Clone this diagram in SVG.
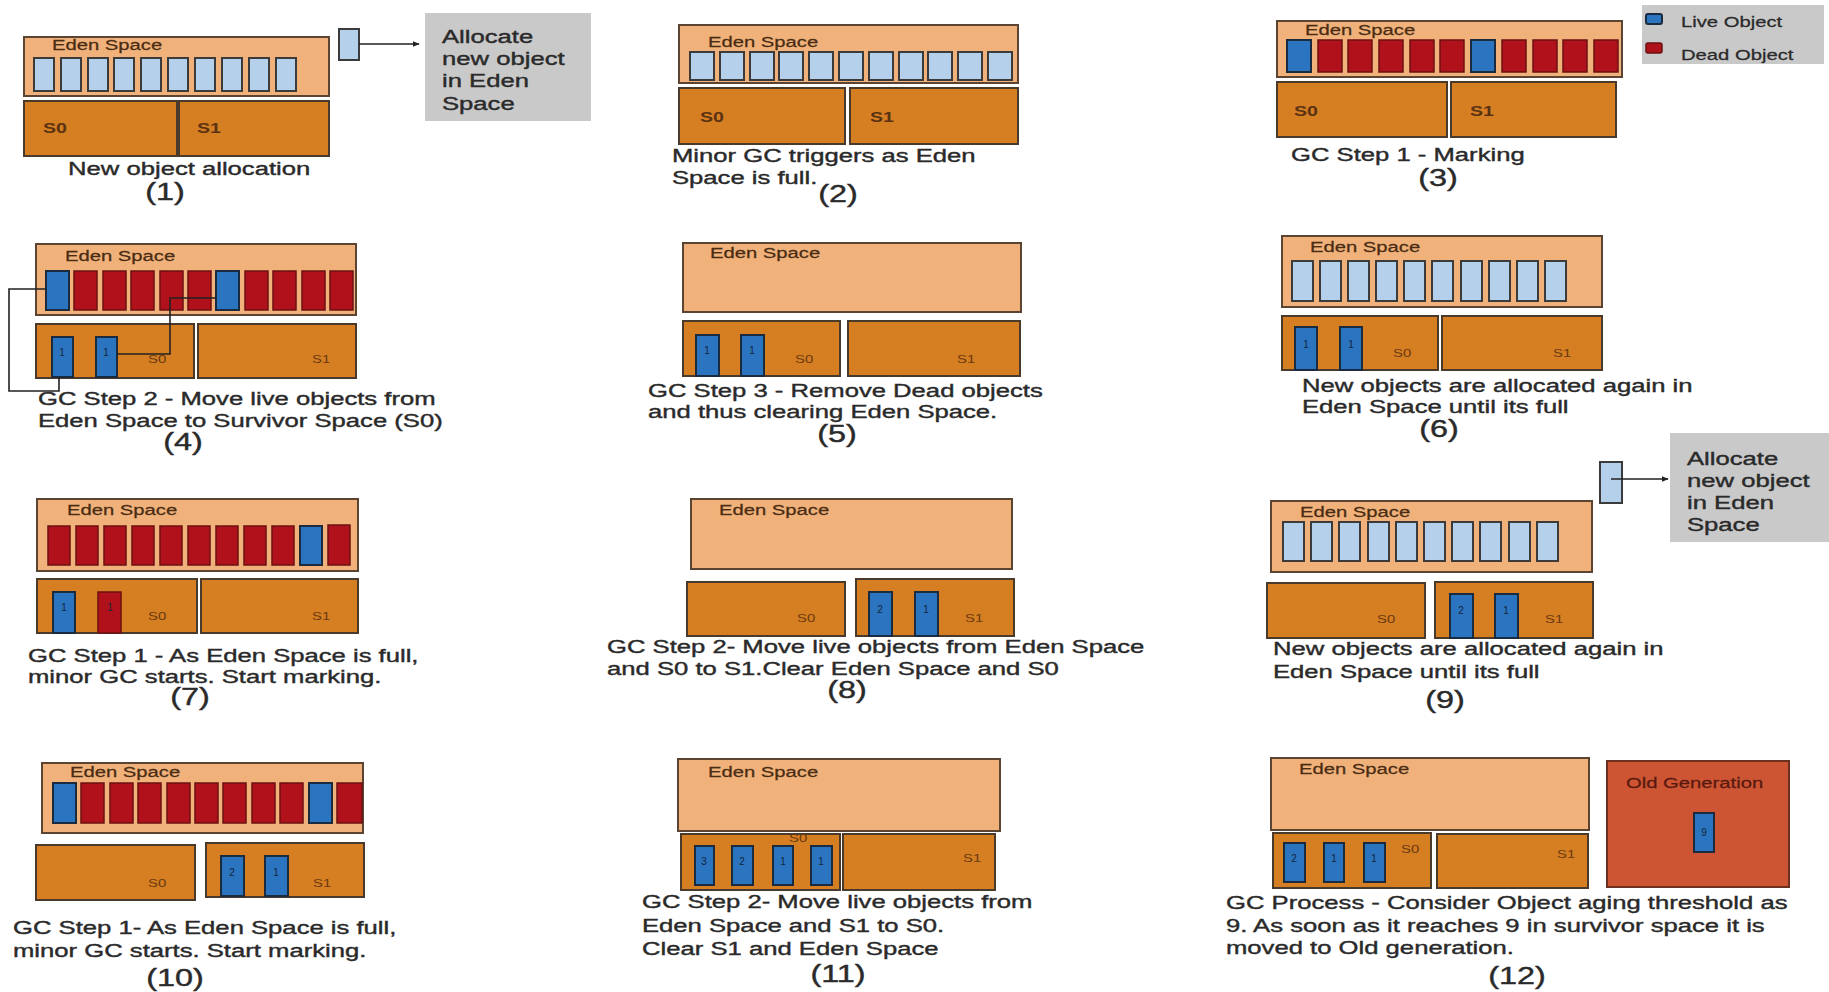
<svg xmlns="http://www.w3.org/2000/svg" width="1829" height="992" viewBox="0 0 1829 992">
<defs>
<style>
.eden{fill:#f0b27a;stroke:#5c4433;stroke-width:2}
.surv{fill:#d67e22;stroke:#4a3a2c;stroke-width:2}
.obj{fill:#b5d0ea;stroke:#3b3b3b;stroke-width:2}
.live{fill:#2b74c0;stroke:#1b2b3f;stroke-width:2}
.dead{fill:#b0111b;stroke:#6b1010;stroke-width:1.5}
.gray{fill:#c9c9c9}
.old{fill:#cd5533;stroke:#6b3020;stroke-width:2}
text{font-family:"Liberation Sans",Arial,sans-serif}
.lbl{font-size:15px;fill:#4a2c14;stroke:#4a2c14;stroke-width:0.25}
.sb{font-size:14.5px;font-weight:bold;fill:#5a3212}
.ss{font-size:11px;fill:#6a3a10}
.cap{font-size:19px;fill:#2a2a2a;stroke:#2a2a2a;stroke-width:0.4}
.num{font-size:24px;fill:#2a2a2a;stroke:#2a2a2a;stroke-width:0.4;text-anchor:middle}
.note{font-size:19px;fill:#2a2a2a;stroke:#2a2a2a;stroke-width:0.4}
.leg{font-size:15px;fill:#2a2a2a;stroke:#2a2a2a;stroke-width:0.25}
.oid{font-size:10px;fill:#14263c;text-anchor:middle}
.ogl{font-size:15px;fill:#5a1a10;stroke:#5a1a10;stroke-width:0.25}
.conn{fill:none;stroke:#222;stroke-width:1.6}
</style>
<marker id="arr" viewBox="0 0 10 10" refX="9" refY="5" markerWidth="7" markerHeight="7" orient="auto" markerUnits="userSpaceOnUse">
<path d="M0,1 L10,5 L0,9 z" fill="#222"/>
</marker>
</defs>
<rect width="1829" height="992" fill="#ffffff"/>

<g id="p1">
<rect class="eden" x="24" y="37" width="305" height="59"/>
<text class="lbl" transform="matrix(1.35 0 0 1 52 50)">Eden Space</text>
<rect class="obj" x="34" y="58" width="20" height="33"/>
<rect class="obj" x="61" y="58" width="20" height="33"/>
<rect class="obj" x="88" y="58" width="20" height="33"/>
<rect class="obj" x="114" y="58" width="20" height="33"/>
<rect class="obj" x="141" y="58" width="20" height="33"/>
<rect class="obj" x="168" y="58" width="20" height="33"/>
<rect class="obj" x="195" y="58" width="20" height="33"/>
<rect class="obj" x="222" y="58" width="20" height="33"/>
<rect class="obj" x="249" y="58" width="20" height="33"/>
<rect class="obj" x="276" y="58" width="20" height="33"/>
<rect class="surv" x="24" y="101" width="153" height="55"/>
<rect class="surv" x="179" y="101" width="150" height="55"/>
<text class="sb" transform="matrix(1.35 0 0 1 43 133)">S0</text>
<text class="sb" transform="matrix(1.35 0 0 1 197 133)">S1</text>
<rect class="obj" x="339" y="29" width="20" height="31"/>
<rect class="gray" x="425" y="13" width="166" height="108"/>
<text class="note" transform="matrix(1.35 0 0 1 442 43)">Allocate</text>
<text class="note" transform="matrix(1.35 0 0 1 442 65)">new object</text>
<text class="note" transform="matrix(1.35 0 0 1 442 87)">in Eden</text>
<text class="note" transform="matrix(1.35 0 0 1 442 110)">Space</text>
<text class="cap" transform="matrix(1.35 0 0 1 68 175)">New object allocation</text>
<text class="num" transform="matrix(1.35 0 0 1 165 200)">(1)</text>
</g>

<g id="p2">
<rect class="eden" x="679" y="25" width="339" height="58"/>
<text class="lbl" transform="matrix(1.35 0 0 1 708 47)">Eden Space</text>
<rect class="obj" x="690" y="52" width="24" height="28"/>
<rect class="obj" x="720" y="52" width="24" height="28"/>
<rect class="obj" x="750" y="52" width="24" height="28"/>
<rect class="obj" x="779" y="52" width="24" height="28"/>
<rect class="obj" x="809" y="52" width="24" height="28"/>
<rect class="obj" x="839" y="52" width="24" height="28"/>
<rect class="obj" x="869" y="52" width="24" height="28"/>
<rect class="obj" x="899" y="52" width="24" height="28"/>
<rect class="obj" x="928" y="52" width="24" height="28"/>
<rect class="obj" x="958" y="52" width="24" height="28"/>
<rect class="obj" x="988" y="52" width="24" height="28"/>
<rect class="surv" x="679" y="88" width="166" height="56"/>
<rect class="surv" x="850" y="88" width="168" height="56"/>
<text class="sb" transform="matrix(1.35 0 0 1 700 122)">S0</text>
<text class="sb" transform="matrix(1.35 0 0 1 870 122)">S1</text>
<text class="cap" transform="matrix(1.35 0 0 1 672 162)">Minor GC triggers as Eden</text>
<text class="cap" transform="matrix(1.35 0 0 1 672 184)">Space is full.</text>
<text class="num" transform="matrix(1.35 0 0 1 838 202)">(2)</text>
</g>

<g id="p3">
<rect class="eden" x="1277" y="21" width="345" height="56"/>
<text class="lbl" transform="matrix(1.35 0 0 1 1305 35)">Eden Space</text>
<rect class="live" x="1287" y="40" width="24" height="32"/>
<rect class="dead" x="1318" y="40" width="24" height="32"/>
<rect class="dead" x="1348" y="40" width="24" height="32"/>
<rect class="dead" x="1379" y="40" width="24" height="32"/>
<rect class="dead" x="1410" y="40" width="24" height="32"/>
<rect class="dead" x="1440" y="40" width="24" height="32"/>
<rect class="live" x="1471" y="40" width="24" height="32"/>
<rect class="dead" x="1502" y="40" width="24" height="32"/>
<rect class="dead" x="1533" y="40" width="24" height="32"/>
<rect class="dead" x="1563" y="40" width="24" height="32"/>
<rect class="dead" x="1594" y="40" width="24" height="32"/>
<rect class="surv" x="1277" y="82" width="170" height="55"/>
<rect class="surv" x="1451" y="82" width="165" height="55"/>
<text class="sb" transform="matrix(1.35 0 0 1 1294 116)">S0</text>
<text class="sb" transform="matrix(1.35 0 0 1 1470 116)">S1</text>
<text class="cap" transform="matrix(1.35 0 0 1 1291 161)">GC Step 1 - Marking</text>
<text class="num" transform="matrix(1.35 0 0 1 1438 186)">(3)</text>
</g>

<g id="legend">
<rect class="gray" x="1642" y="5" width="182" height="59"/>
<rect class="live" x="1646" y="14" width="16" height="10" rx="2"/>
<text class="leg" transform="matrix(1.35 0 0 1 1681 27)">Live Object</text>
<rect class="dead" x="1646" y="43" width="16" height="10" rx="2"/>
<text class="leg" transform="matrix(1.35 0 0 1 1681 60)">Dead Object</text>
</g>

<g id="p4">
<rect class="eden" x="36" y="244" width="320" height="71"/>
<text class="lbl" transform="matrix(1.35 0 0 1 65 261)">Eden Space</text>
<rect class="live" x="46" y="271" width="23" height="39"/>
<rect class="dead" x="74" y="271" width="23" height="39"/>
<rect class="dead" x="103" y="271" width="23" height="39"/>
<rect class="dead" x="131" y="271" width="23" height="39"/>
<rect class="dead" x="160" y="271" width="23" height="39"/>
<rect class="dead" x="188" y="271" width="23" height="39"/>
<rect class="live" x="216" y="271" width="23" height="39"/>
<rect class="dead" x="245" y="271" width="23" height="39"/>
<rect class="dead" x="273" y="271" width="23" height="39"/>
<rect class="dead" x="302" y="271" width="23" height="39"/>
<rect class="dead" x="330" y="271" width="23" height="39"/>
<rect class="surv" x="36" y="324" width="158" height="54"/>
<rect class="surv" x="198" y="324" width="158" height="54"/>
<rect class="live" x="52" y="337" width="21" height="40"/>
<text class="oid" x="62" y="356">1</text>
<rect class="live" x="96" y="337" width="21" height="40"/>
<text class="oid" x="106" y="356">1</text>
<text class="ss" transform="matrix(1.35 0 0 1 148 363)">S0</text>
<text class="ss" transform="matrix(1.35 0 0 1 312 363)">S1</text>
<text class="cap" transform="matrix(1.35 0 0 1 38 405)">GC Step 2 - Move live objects from</text>
<text class="cap" transform="matrix(1.35 0 0 1 38 427)">Eden Space to Survivor Space (S0)</text>
<text class="num" transform="matrix(1.35 0 0 1 183 450)">(4)</text>
</g>

<g id="p5">
<rect class="eden" x="683" y="243" width="338" height="69"/>
<text class="lbl" transform="matrix(1.35 0 0 1 710 258)">Eden Space</text>
<rect class="surv" x="683" y="321" width="157" height="55"/>
<rect class="surv" x="848" y="321" width="172" height="55"/>
<rect class="live" x="696" y="335" width="23" height="41"/>
<text class="oid" x="707" y="354">1</text>
<rect class="live" x="741" y="335" width="23" height="41"/>
<text class="oid" x="752" y="354">1</text>
<text class="ss" transform="matrix(1.35 0 0 1 795 363)">S0</text>
<text class="ss" transform="matrix(1.35 0 0 1 957 363)">S1</text>
<text class="cap" transform="matrix(1.35 0 0 1 648 397)">GC Step 3 - Remove Dead objects</text>
<text class="cap" transform="matrix(1.35 0 0 1 648 418)">and thus clearing Eden Space.</text>
<text class="num" transform="matrix(1.35 0 0 1 837 442)">(5)</text>
</g>

<g id="p6">
<rect class="eden" x="1282" y="236" width="320" height="71"/>
<text class="lbl" transform="matrix(1.35 0 0 1 1310 252)">Eden Space</text>
<rect class="obj" x="1292" y="261" width="21" height="40"/>
<rect class="obj" x="1320" y="261" width="21" height="40"/>
<rect class="obj" x="1348" y="261" width="21" height="40"/>
<rect class="obj" x="1376" y="261" width="21" height="40"/>
<rect class="obj" x="1404" y="261" width="21" height="40"/>
<rect class="obj" x="1432" y="261" width="21" height="40"/>
<rect class="obj" x="1461" y="261" width="21" height="40"/>
<rect class="obj" x="1489" y="261" width="21" height="40"/>
<rect class="obj" x="1517" y="261" width="21" height="40"/>
<rect class="obj" x="1545" y="261" width="21" height="40"/>
<rect class="surv" x="1282" y="316" width="156" height="54"/>
<rect class="surv" x="1442" y="316" width="160" height="54"/>
<rect class="live" x="1295" y="327" width="22" height="43"/>
<text class="oid" x="1306" y="348">1</text>
<rect class="live" x="1340" y="327" width="22" height="43"/>
<text class="oid" x="1351" y="348">1</text>
<text class="ss" transform="matrix(1.35 0 0 1 1393 357)">S0</text>
<text class="ss" transform="matrix(1.35 0 0 1 1553 357)">S1</text>
<text class="cap" transform="matrix(1.35 0 0 1 1302 392)">New objects are allocated again in</text>
<text class="cap" transform="matrix(1.35 0 0 1 1302 413)">Eden Space until its full</text>
<text class="num" transform="matrix(1.35 0 0 1 1439 437)">(6)</text>
</g>

<g id="p7">
<rect class="eden" x="37" y="499" width="321" height="72"/>
<text class="lbl" transform="matrix(1.35 0 0 1 67 515)">Eden Space</text>
<rect class="dead" x="48" y="526" width="22" height="39"/>
<rect class="dead" x="76" y="526" width="22" height="39"/>
<rect class="dead" x="104" y="526" width="22" height="39"/>
<rect class="dead" x="132" y="526" width="22" height="39"/>
<rect class="dead" x="160" y="526" width="22" height="39"/>
<rect class="dead" x="188" y="526" width="22" height="39"/>
<rect class="dead" x="216" y="526" width="22" height="39"/>
<rect class="dead" x="244" y="526" width="22" height="39"/>
<rect class="dead" x="272" y="526" width="22" height="39"/>
<rect class="live" x="300" y="526" width="22" height="39"/>
<rect class="dead" x="328" y="525" width="22" height="40"/>
<rect class="surv" x="37" y="579" width="160" height="54"/>
<rect class="surv" x="201" y="579" width="157" height="54"/>
<rect class="live" x="53" y="592" width="22" height="41"/>
<text class="oid" x="64" y="611">1</text>
<rect class="dead" x="98" y="592" width="23" height="41"/>
<text class="oid" x="110" y="611">1</text>
<text class="ss" transform="matrix(1.35 0 0 1 148 620)">S0</text>
<text class="ss" transform="matrix(1.35 0 0 1 312 620)">S1</text>
<text class="cap" transform="matrix(1.35 0 0 1 28 662)">GC Step 1 - As Eden Space is full,</text>
<text class="cap" transform="matrix(1.35 0 0 1 28 683)">minor GC starts. Start marking.</text>
<text class="num" transform="matrix(1.35 0 0 1 190 705)">(7)</text>
</g>

<g id="p8">
<rect class="eden" x="691" y="499" width="321" height="70"/>
<text class="lbl" transform="matrix(1.35 0 0 1 719 515)">Eden Space</text>
<rect class="surv" x="687" y="582" width="158" height="54"/>
<rect class="surv" x="856" y="579" width="158" height="57"/>
<rect class="live" x="869" y="592" width="23" height="44"/>
<text class="oid" x="880" y="613">2</text>
<rect class="live" x="915" y="592" width="23" height="44"/>
<text class="oid" x="926" y="613">1</text>
<text class="ss" transform="matrix(1.35 0 0 1 797 622)">S0</text>
<text class="ss" transform="matrix(1.35 0 0 1 965 622)">S1</text>
<text class="cap" transform="matrix(1.35 0 0 1 607 653)">GC Step 2- Move live objects from Eden Space</text>
<text class="cap" transform="matrix(1.35 0 0 1 607 675)">and S0 to S1.Clear Eden Space and S0</text>
<text class="num" transform="matrix(1.35 0 0 1 847 698)">(8)</text>
</g>

<g id="p9">
<rect class="eden" x="1271" y="501" width="321" height="71"/>
<text class="lbl" transform="matrix(1.35 0 0 1 1300 517)">Eden Space</text>
<rect class="obj" x="1283" y="522" width="21" height="39"/>
<rect class="obj" x="1311" y="522" width="21" height="39"/>
<rect class="obj" x="1339" y="522" width="21" height="39"/>
<rect class="obj" x="1368" y="522" width="21" height="39"/>
<rect class="obj" x="1396" y="522" width="21" height="39"/>
<rect class="obj" x="1424" y="522" width="21" height="39"/>
<rect class="obj" x="1452" y="522" width="21" height="39"/>
<rect class="obj" x="1480" y="522" width="21" height="39"/>
<rect class="obj" x="1509" y="522" width="21" height="39"/>
<rect class="obj" x="1537" y="522" width="21" height="39"/>
<rect class="surv" x="1267" y="583" width="158" height="55"/>
<rect class="surv" x="1435" y="582" width="158" height="56"/>
<rect class="live" x="1450" y="594" width="23" height="44"/>
<text class="oid" x="1461" y="614">2</text>
<rect class="live" x="1495" y="594" width="23" height="44"/>
<text class="oid" x="1506" y="614">1</text>
<text class="ss" transform="matrix(1.35 0 0 1 1377 623)">S0</text>
<text class="ss" transform="matrix(1.35 0 0 1 1545 623)">S1</text>
<rect class="obj" x="1600" y="462" width="22" height="41"/>
<rect class="gray" x="1670" y="433" width="159" height="109"/>
<text class="note" transform="matrix(1.35 0 0 1 1687 465)">Allocate</text>
<text class="note" transform="matrix(1.35 0 0 1 1687 487)">new object</text>
<text class="note" transform="matrix(1.35 0 0 1 1687 509)">in Eden</text>
<text class="note" transform="matrix(1.35 0 0 1 1687 531)">Space</text>
<text class="cap" transform="matrix(1.35 0 0 1 1273 655)">New objects are allocated again in</text>
<text class="cap" transform="matrix(1.35 0 0 1 1273 678)">Eden Space until its full</text>
<text class="num" transform="matrix(1.35 0 0 1 1445 708)">(9)</text>
</g>

<g id="p10">
<rect class="eden" x="42" y="763" width="321" height="70"/>
<text class="lbl" transform="matrix(1.35 0 0 1 70 777)">Eden Space</text>
<rect class="live" x="53" y="783" width="23" height="40"/>
<rect class="dead" x="81" y="783" width="23" height="40"/>
<rect class="dead" x="110" y="783" width="23" height="40"/>
<rect class="dead" x="138" y="783" width="23" height="40"/>
<rect class="dead" x="167" y="783" width="23" height="40"/>
<rect class="dead" x="195" y="783" width="23" height="40"/>
<rect class="dead" x="223" y="783" width="23" height="40"/>
<rect class="dead" x="252" y="783" width="23" height="40"/>
<rect class="dead" x="280" y="783" width="23" height="40"/>
<rect class="live" x="309" y="783" width="23" height="40"/>
<rect class="dead" x="337" y="783" width="25" height="40"/>
<rect class="surv" x="36" y="845" width="159" height="55"/>
<rect class="surv" x="206" y="843" width="158" height="54"/>
<rect class="live" x="221" y="856" width="23" height="40"/>
<text class="oid" x="232" y="876">2</text>
<rect class="live" x="265" y="856" width="23" height="40"/>
<text class="oid" x="276" y="876">1</text>
<text class="ss" transform="matrix(1.35 0 0 1 148 887)">S0</text>
<text class="ss" transform="matrix(1.35 0 0 1 313 887)">S1</text>
<text class="cap" transform="matrix(1.35 0 0 1 13 934)">GC Step 1- As Eden Space is full,</text>
<text class="cap" transform="matrix(1.35 0 0 1 13 957)">minor GC starts. Start marking.</text>
<text class="num" transform="matrix(1.35 0 0 1 175 986)">(10)</text>
</g>

<g id="p11">
<rect class="eden" x="678" y="759" width="322" height="72"/>
<text class="lbl" transform="matrix(1.35 0 0 1 708 777)">Eden Space</text>
<rect class="surv" x="681" y="834" width="159" height="56"/>
<rect class="surv" x="843" y="834" width="152" height="56"/>
<rect class="live" x="695" y="846" width="19" height="39"/>
<text class="oid" x="704" y="865">3</text>
<rect class="live" x="732" y="846" width="21" height="39"/>
<text class="oid" x="742" y="865">2</text>
<rect class="live" x="773" y="846" width="20" height="39"/>
<text class="oid" x="783" y="865">1</text>
<rect class="live" x="811" y="846" width="21" height="39"/>
<text class="oid" x="821" y="865">1</text>
<text class="ss" transform="matrix(1.35 0 0 1 789 842)">S0</text>
<text class="ss" transform="matrix(1.35 0 0 1 963 862)">S1</text>
<text class="cap" transform="matrix(1.35 0 0 1 642 908)">GC Step 2- Move live objects from</text>
<text class="cap" transform="matrix(1.35 0 0 1 642 932)">Eden Space and S1 to S0.</text>
<text class="cap" transform="matrix(1.35 0 0 1 642 955)">Clear S1 and Eden Space</text>
<text class="num" transform="matrix(1.35 0 0 1 838 982)">(11)</text>
</g>

<g id="p12">
<rect class="eden" x="1271" y="758" width="318" height="72"/>
<text class="lbl" transform="matrix(1.35 0 0 1 1299 774)">Eden Space</text>
<rect class="surv" x="1273" y="833" width="158" height="55"/>
<rect class="surv" x="1437" y="834" width="151" height="54"/>
<rect class="live" x="1284" y="843" width="21" height="39"/>
<text class="oid" x="1294" y="862">2</text>
<rect class="live" x="1324" y="843" width="20" height="39"/>
<text class="oid" x="1334" y="862">1</text>
<rect class="live" x="1364" y="843" width="21" height="39"/>
<text class="oid" x="1374" y="862">1</text>
<text class="ss" transform="matrix(1.35 0 0 1 1401 853)">S0</text>
<text class="ss" transform="matrix(1.35 0 0 1 1557 858)">S1</text>
<rect class="old" x="1607" y="761" width="182" height="126"/>
<text class="ogl" transform="matrix(1.35 0 0 1 1626 788)">Old Generation</text>
<rect class="live" x="1694" y="813" width="20" height="39"/>
<text class="oid" x="1704" y="836">9</text>
<text class="cap" transform="matrix(1.35 0 0 1 1226 909)">GC Process - Consider Object aging threshold as</text>
<text class="cap" transform="matrix(1.35 0 0 1 1226 932)">9. As soon as it reaches 9 in survivor space it is</text>
<text class="cap" transform="matrix(1.35 0 0 1 1226 954)">moved to Old generation.</text>
<text class="num" transform="matrix(1.35 0 0 1 1517 984)">(12)</text>
</g>

<g id="connectors">
<line class="conn" x1="359" y1="44" x2="419" y2="44" marker-end="url(#arr)"/>
<line class="conn" x1="1611" y1="479" x2="1668" y2="479" marker-end="url(#arr)"/>
<path class="conn" d="M46,289 H9 V391 H59 V377"/>
<path class="conn" d="M216,298 H170 V354 H117"/>
</g>
</svg>
